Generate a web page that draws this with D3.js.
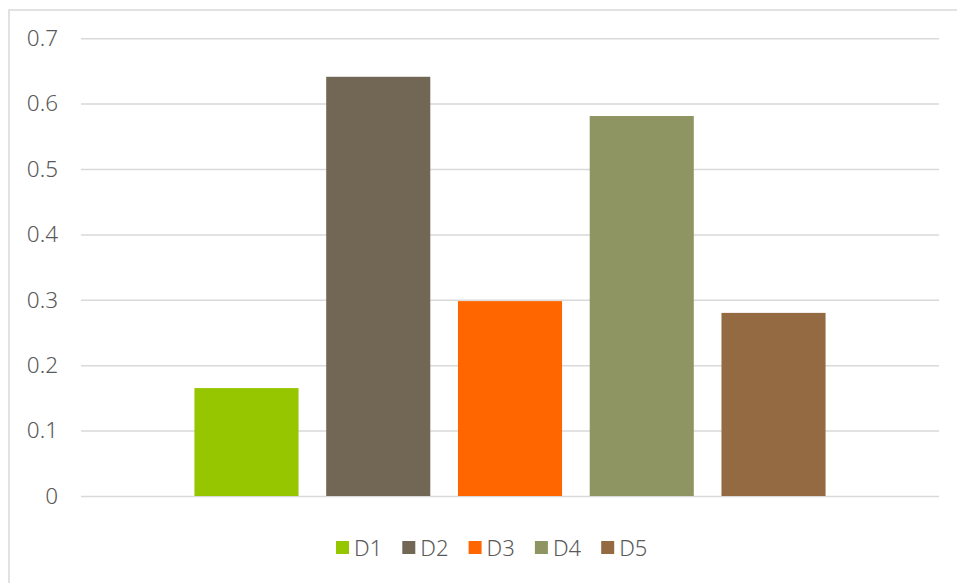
<!DOCTYPE html>
<html><head><meta charset="utf-8">
<script src="https://cdn.jsdelivr.net/npm/d3@7"></script>
<style>body{margin:0;background:#fff}svg{display:block}text{font-family:"Noto Sans","Lato",sans-serif;fill:#595959}</style>
</head><body>
<script>
const series = ["D1","D2","D3","D4","D5"];
const values = [0.165, 0.641, 0.298, 0.581, 0.28];
const colors = ["#95C600","#726654","#FF6600","#8E9462","#946A43"];
const yTicks = [0,0.1,0.2,0.3,0.4,0.5,0.6,0.7];

(function(){
const W=957,H=583;
const svg=d3.select("body").append("svg").attr("width",W).attr("height",H);
svg.append("rect").attr("x",9).attr("y",10).attr("width",W).attr("height",H)
  .attr("fill","#fff").attr("stroke","#d9d9d9").attr("stroke-width",1.5);

const pl=81,pr=939,pt=38.2,pb=496;
const y=d3.scaleLinear().domain([0,0.7]).range([pb,pt]);
const x=d3.scaleBand().domain(series).range([pl,pr]).paddingInner(0.21).paddingOuter(0.861);

const yAxis=svg.append("g").attr("transform",`translate(${pl},0)`)
  .call(d3.axisLeft(y).tickValues(yTicks).tickFormat(d=>d===0?"0":d3.format(".1f")(d)).tickSize(-(pr-pl)).tickPadding(23));
yAxis.select(".domain").remove();
yAxis.selectAll(".tick line").attr("stroke","#d9d9d9").attr("stroke-width",1.5);
yAxis.selectAll(".tick text").attr("font-size",22.5).attr("font-weight",300).style("fill","#595959");

svg.append("g").selectAll("rect").data(series).join("rect")
  .attr("x",d=>x(d)).attr("width",x.bandwidth())
  .attr("y",(d,i)=>y(values[i])).attr("height",(d,i)=>pb-y(values[i]))
  .attr("fill",(d,i)=>colors[i]);

const lg=svg.append("g");
series.forEach((s,i)=>{
  const gx=336+i*66.3;
  lg.append("rect").attr("x",gx).attr("y",541).attr("width",13).attr("height",13).attr("fill",colors[i]);
  lg.append("text").attr("x",gx+18).attr("y",556).attr("font-size",22).attr("font-weight",300).text(s);
});
})();
</script>
</body></html>
